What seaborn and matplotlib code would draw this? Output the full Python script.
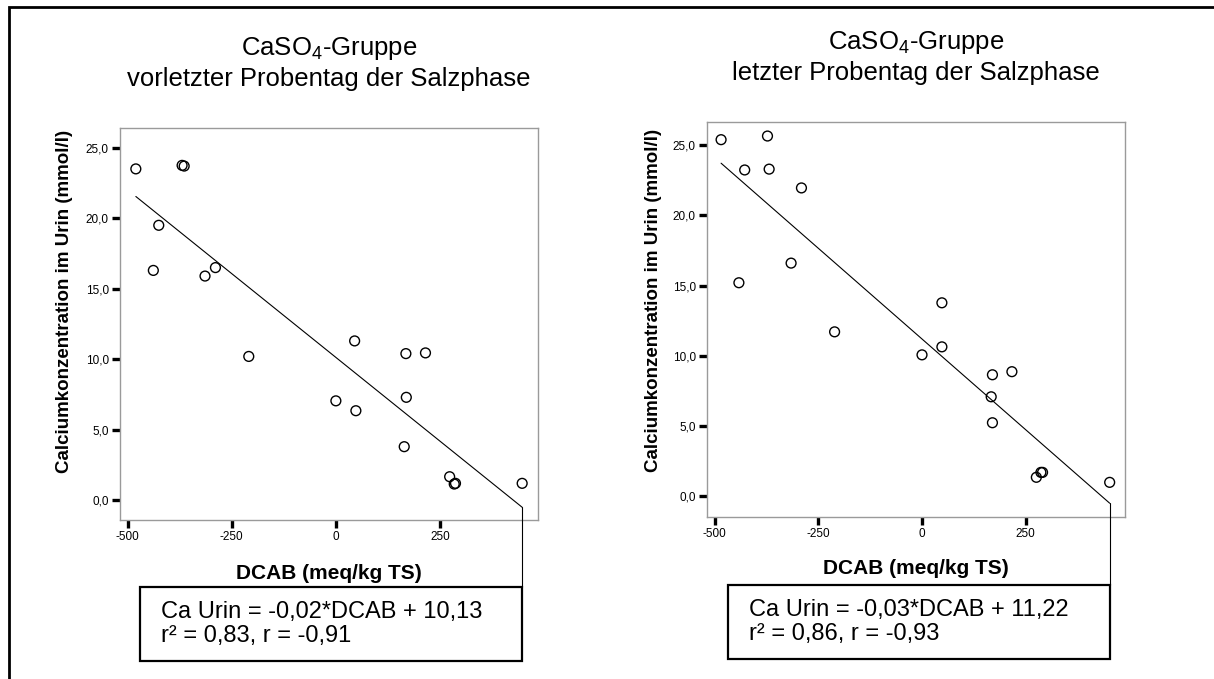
import numpy as np
import seaborn as sns
import matplotlib.pyplot as plt
from matplotlib.patches import Rectangle
from matplotlib.lines import Line2D
from matplotlib.ticker import FixedLocator, FuncFormatter

# vorletzter Probentag
dcab_vorletzt = [-480, -369, -364, -425, -438, -314, -289, -209, 45, 168, 215,
                 0, 48, 169, 164, 273, 284, 287, 447]
ca_vorletzt = [23.5, 23.75, 23.7, 19.5, 16.3, 15.9, 16.5, 10.2, 11.3, 10.4, 10.45,
               7.05, 6.35, 7.3, 3.8, 1.67, 1.15, 1.2, 1.2]

# letzter Probentag
dcab_letzt = [-485, -373, -428, -369, -291, -316, -442, -211, 48, 48, 0,
              170, 217, 167, 170, 276, 287, 291, 453]
ca_letzt = [25.4, 25.66, 23.24, 23.3, 21.96, 16.6, 15.2, 11.7, 13.77, 10.63, 10.06,
            8.64, 8.86, 7.07, 5.22, 1.33, 1.68, 1.68, 0.97]

titles = ["CaSO$_4$-Gruppe\nvorletzter Probentag der Salzphase",
          "CaSO$_4$-Gruppe\nletzter Probentag der Salzphase"]
equations = ["Ca Urin = -0,02*DCAB + 10,13\nr² = 0,83, r = -0,91",
             "Ca Urin = -0,03*DCAB + 11,22\nr² = 0,86, r = -0,93"]
x_ticks = [-500, -250, 0, 250]
y_ticks = [0, 5, 10, 15, 20, 25]

sns.set_theme(style="white")
plt.rcParams['font.family'] = ['Liberation Sans', 'DejaVu Sans']
plt.rcParams['mathtext.fontset'] = 'custom'
plt.rcParams['mathtext.rm'] = 'Liberation Sans'
plt.rcParams['mathtext.it'] = 'Liberation Sans'
plt.rcParams['text.color'] = 'black'
plt.rcParams['axes.labelcolor'] = 'black'
plt.rcParams['xtick.color'] = 'black'
plt.rcParams['ytick.color'] = 'black'

W, H = 1214, 679
fig = plt.figure(figsize=(W / 100, H / 100), dpi=100)

# pixel boxes: left, top, right, bottom
ax_boxes = [(120, 128, 538, 520), (707, 122, 1125, 517)]
ylab_pos = [(73, 301), (662, 300)]
xlab_top = [564, 559]
eq_top = [587, 585]
limits = [((-518, 485), (-1.4, 26.4)), ((-519, 490), (-1.5, 26.66))]

data = [(dcab_vorletzt, ca_vorletzt), (dcab_letzt, ca_letzt)]

for i, (xs, ys) in enumerate(data):
    l, t, r, b = ax_boxes[i]
    ax = fig.add_axes([l / W, 1 - b / H, (r - l) / W, (b - t) / H])
    sns.regplot(x=np.array(xs), y=np.array(ys), ax=ax, ci=None, color="black",
                marker="o",
                scatter_kws={"s": 50, "facecolors": "none", "edgecolors": "black",
                             "linewidths": 1.0, "alpha": 1},
                line_kws={"linewidth": 0.8})
    ax.set_xlim(*limits[i][0])
    ax.set_ylim(*limits[i][1])
    ax.xaxis.set_major_locator(FixedLocator(x_ticks))
    ax.yaxis.set_major_locator(FixedLocator(y_ticks))
    ax.yaxis.set_major_formatter(FuncFormatter(lambda v, p: f"{v:.1f}".replace(".", ",")))
    ax.xaxis.set_major_formatter(FuncFormatter(lambda v, p: f"{v:.0f}"))
    ax.tick_params(axis="both", direction="out", length=6, width=2.4, color="black",
                   labelsize=8.5, pad=2, bottom=True, left=True)
    for sp in ax.spines.values():
        sp.set_color("#9a9a9a")
        sp.set_linewidth(1.0)
    ax.set_xlabel("DCAB (meq/kg TS)", fontsize=15, fontweight="bold")
    ax.set_ylabel("Calciumkonzentration im Urin (mmol/l)", fontsize=13.5, fontweight="bold")
    yx, yy = ylab_pos[i]
    ax.yaxis.set_label_coords((yx - l) / (r - l), (b - yy) / (b - t))
    ax.xaxis.set_label_coords(0.5, (b - xlab_top[i]) / (b - t))
    ax.set_title(titles[i], fontsize=18.5, linespacing=1.3, pad=30)

    # connector from regression line end down to the equation box
    end = ax.lines[0].get_xydata()[-1]
    fx, fy = fig.transFigure.inverted().transform(ax.transData.transform(end))
    top = 1 - eq_top[i] / H
    fig.add_artist(Line2D([fx, fx], [fy, top], transform=fig.transFigure,
                          color="black", linewidth=0.8))
    bw, bh = 382 / W, 74 / H
    fig.add_artist(Rectangle((fx - bw, top - bh), bw, bh, transform=fig.transFigure,
                             fill=False, edgecolor="black", linewidth=1.6))
    fig.text(fx - bw + 21 / W, top - bh / 2, equations[i], fontsize=17,
             va="center", ha="left", linespacing=1.1)

# outer frame (open to the right and bottom)
fig.add_artist(Rectangle((9 / W, -0.1), 1.2, 1.1 - 7 / H, transform=fig.transFigure,
                         fill=False, edgecolor="black", linewidth=2))

fig.savefig("out.png", dpi=100)
